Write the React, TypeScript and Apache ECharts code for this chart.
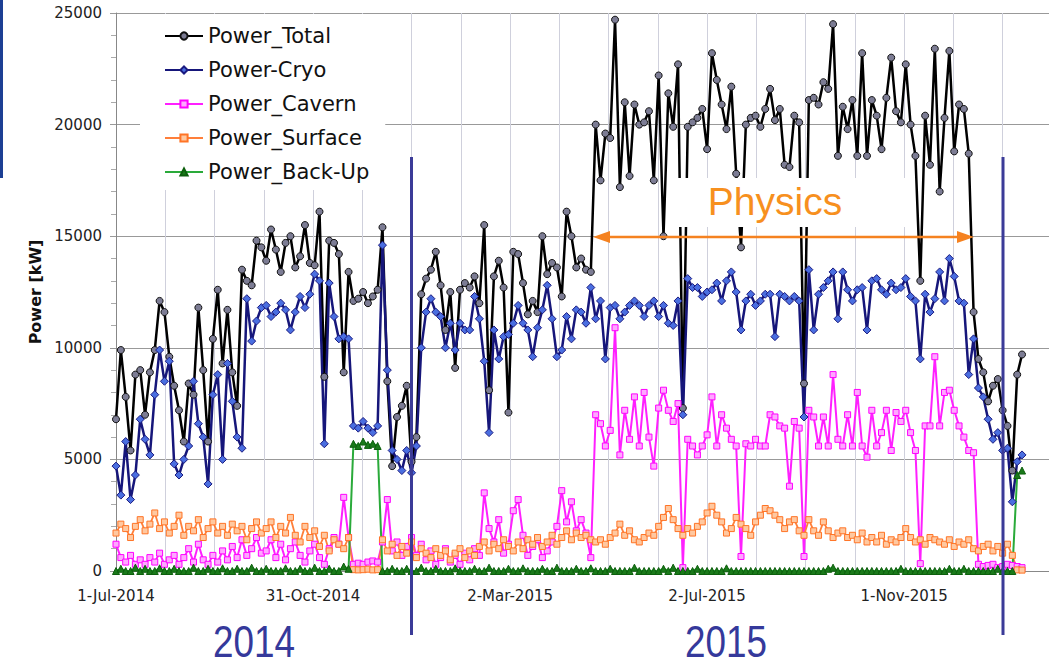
import React, { useEffect, useRef } from "react";
import * as echarts from "echarts";

// one value every DAY_STEP days, starting 1-Jul-2014 (day 0)
const DAY_STEP = 3;
const TICK_LABELS = ["1-Jul-2014", "31-Oct-2014", "2-Mar-2015", "2-Jul-2015", "1-Nov-2015"];
const LABEL_EVERY_DAYS = 122;
const GRID_EVERY_DAYS = 30.5;
const X_MAX_DAYS = 577.7;

const POWER_TOTAL = [
  6800, 9900, 7800, 5400, 8800, 9000, 7000, 8900, 9900, 12100,
  11600, 9600, 8300, 7200, 5800, 8400, 7900, 11800, 9000, 5800,
  10400, 12600, 9300, 11700, 8900, 7400, 13500, 13000, 12800, 14800,
  14500, 13900, 15300, 14400, 13400, 14700, 15000, 13600, 14100, 15500,
  13800, 13700, 16100, 8700, 14800, 14700, 14200, 8900, 13400, 12100,
  12200, 12500, 12000, 12300, 12600, 15400, 8500, 4700, 6900, 7400,
  8300, 4900, 6000, 12400, 13100, 13500, 14300, 12800, 10800, 12500,
  9100, 12600, 12900, 12700, 13200, 12000, 15500, 8100, 13200, 13900,
  12700, 7100, 14300, 14200, 12900, 11500, 12100, 11600, 15000, 13300,
  13800, 13600, 12300, 16100, 15000, 13600, 14000, 13500, 13400, 20000,
  17500, 19600, 19400, 24700, 17200, 21000, 17700, 20900, 20000, 20100,
  20600, 17500, 22200, 15000, 21400, 19900, 22700, 7300, 19900, 20100,
  20300, 20700, 18900, 23200, 22000, 20900, 19800, 21700, 17800, 14500,
  20000, 20300, 20400, 19900, 20700, 21600, 20200, 20700, 18200, 18100,
  20400, 20100, 8400, 21100, 21200, 20900, 21900, 21600, 24500, 18600,
  20800, 19800, 21100, 18600, 23200, 18600, 21100, 20400, 18900, 21200,
  23000, 20600, 20100, 22700, 20000, 18600, 13000, 20400, 18200, 23400,
  17000, 20300, 23300, 18800, 20900, 20700, 18700, 11600, 9500, 8900,
  7600, 8300, 8600, 7200, 6500, 4500, 8800, 9700,
];

const POWER_CRYO = [
  4700, 3400, 5800, 3200, 4300, 6800, 5900, 5200, 7900, 9900,
  8500, 9400, 4800, 4300, 5000, 5600, 8500, 6600, 6000, 3900,
  7900, 8800, 5000, 9300, 7600, 6000, 5500, 12200, 10300, 11200,
  11800, 11900, 11400, 11600, 12000, 11700, 10800, 11600, 12300, 11800,
  12400, 13300, 13000, 5700, 12900, 11400, 10400, 10500, 10400, 6500,
  6400, 6700, 6400, 6200, 6500, 14600, 9000, 5400, 5000, 4500,
  5400, 4400, 5600, 10000, 11600, 12200, 11600, 11400, 10000, 11100,
  9900, 11100, 10800, 10800, 12300, 11300, 9400, 6200, 10800, 9500,
  10500, 10600, 11100, 11900, 11100, 10800, 9600, 10900, 11700, 12800,
  11300, 9600, 9900, 11400, 10400, 11700, 11600, 11100, 12700, 11300,
  12100, 9500, 11800, 11900, 11300, 11600, 11900, 12100, 11900, 11400,
  11900, 12100, 11400, 11900, 11100, 11000, 12100, 7000, 13100, 12700,
  12700, 12300, 12500, 12600, 12900, 12100, 13000, 13400, 12500, 10800,
  12100, 12400, 11900, 12100, 12400, 12400, 10500, 12400, 12300, 12100,
  12300, 12100, 6900, 13500, 10800, 12400, 12700, 13000, 13400, 11300,
  13400, 12600, 12100, 12600, 12700, 10800, 13000, 13100, 12600, 12400,
  12900, 12600, 12700, 13100, 12300, 12100, 9500, 12400, 11600, 12200,
  13400, 12100, 14000, 13200, 12100, 12000, 8800, 10400, 8200, 7800,
  6800, 5900, 6200, 5400, 5500, 3100, 4900, 5200,
];

const POWER_CAVERN = [
  1200, 600, 400, 700, 300, 500, 300, 600, 400, 800,
  300, 500, 700, 300, 600, 1000, 400, 1200, 500, 300,
  700, 400, 900, 500, 1100, 600, 1400, 700, 1000, 1500,
  800, 900, 1400, 600, 1200, 500, 1000, 1300, 700, 400,
  900, 1200, 600, 300, 1000, 1500, 1200, 3300, 1500, 300,
  350, 300, 400, 450, 400, 1300, 3200, 900, 1300, 700,
  1100, 1500, 700, 1200, 500, 900, 300, 600, 1000, 400,
  700, 300, 800, 500, 1000, 700, 3500, 1900, 1300, 2300,
  800, 1200, 2700, 3200, 1600, 700, 1100, 1400, 600, 900,
  1300, 2000, 3600, 2200, 3100, 1800, 2300, 1700, 600, 7000,
  6600, 5600, 6300, 10900, 5200, 7200, 5900, 7800, 5600, 8000,
  6000, 4700, 7300, 8100, 7200, 6700, 7500, 150, 5900, 5600,
  5200, 5600, 6100, 7800, 5600, 7000, 6400, 5900, 5600, 650,
  5700, 5600, 5900, 5600, 5600, 7000, 6900, 6500, 6400, 3800,
  6700, 6400, 650, 7200, 6900, 5600, 6900, 5600, 8800, 5900,
  5600, 7000, 5600, 8000, 5600, 5100, 7200, 5600, 6200, 7200,
  5400, 7100, 6700, 7200, 6200, 5400, 330, 6500, 6500, 9600,
  6500, 8000, 8100, 7200, 6500, 6000, 5400, 5300, 300, 200,
  250, 300, 150, 200, 300, 250, 200, 150,
];

const POWER_SURFACE = [
  1700, 2100, 1900, 1500, 2000, 2300, 1800, 2100, 2600, 1900,
  2200, 1700, 2000, 2500, 1600, 2000, 1800, 2300, 1500, 1900,
  2200, 1700, 2000, 1600, 2100, 1800, 2000, 1400, 1900, 2200,
  1700, 1900, 2200, 1500, 2000, 1700, 2400, 1600, 1300, 2000,
  1500, 1800, 1100, 1600, 900, 1400, 1200, 1000, 1500, 60,
  50, 60, 80, 50, 60, 1400, 900, 1200, 700, 1100,
  800, 1300, 600, 1000, 800, 600, 1000, 700, 900, 500,
  800, 1000, 600, 900, 700, 1100, 1300, 900, 1200, 1000,
  1400, 1100, 900, 1300, 1000, 1400, 1200, 1500, 1100, 1300,
  1600, 1200, 1500, 1800, 1400, 1700, 1500, 1600, 1400, 1300,
  1400, 1200, 1500, 1700, 2100, 1600, 1800, 1400, 1300, 1500,
  1700, 1600, 2000, 2400, 2800, 2300, 1900, 1600, 1900, 1700,
  2000, 2200, 2600, 2900, 2500, 2200, 1700, 1900, 2400, 2100,
  1900, 1600, 2200, 2500, 2800, 2700, 2500, 2300, 1900, 2200,
  2300, 1800, 1600, 2300, 1800, 1600, 2200, 1800, 1500, 1700,
  1800, 1500, 1600, 1400, 1700, 1300, 1500, 1300, 1600, 1200,
  1400, 1300, 1500, 1900, 1500, 1300, 1400, 1200, 1500, 1400,
  1300, 1200, 1400, 1100, 1300, 1200, 1400, 1000, 900, 1100,
  1200, 900, 1100, 800, 1200, 700, 50, 40,
];

const POWER_BACKUP = [
  0, 100, 0, 0, 150, 0, 100, 0, 0, 120,
  0, 0, 100, 0, 0, 0, 150, 0, 0, 100,
  0, 0, 120, 0, 0, 100, 0, 0, 150, 0,
  0, 100, 0, 0, 0, 120, 0, 0, 100, 0,
  0, 150, 0, 0, 100, 0, 0, 200, 100, 5700,
  5600, 5800, 5650, 5700, 5600, 0, 0, 100, 0, 0,
  100, 0, 0, 150, 0, 0, 100, 0, 0, 0,
  120, 0, 0, 0, 100, 0, 0, 150, 0, 0,
  0, 100, 0, 0, 120, 0, 0, 0, 100, 0,
  0, 150, 0, 0, 0, 100, 0, 0, 120, 0,
  0, 0, 100, 0, 0, 0, 0, 150, 0, 0,
  0, 0, 0, 100, 0, 150, 0, 0, 0, 0,
  100, 0, 0, 0, 0, 0, 120, 0, 0, 0,
  0, 0, 0, 0, 0, 0, 0, 0, 0, 0,
  0, 0, 0, 0, 0, 0, 0, 100, 150, 0,
  0, 0, 0, 0, 0, 0, 0, 0, 0, 0,
  0, 0, 100, 0, 0, 0, 0, 0, 0, 0,
  0, 0, 100, 0, 0, 100, 0, 0, 0, 0,
  0, 0, 100, 0, 0, 0, 4300, 4500,
];

const SERIES_NAMES = ["Power_Total", "Power-Cryo", "Power_Cavern", "Power_Surface", "Power_Back-Up"];
const YEAR_LABELS = ["2014", "2015"];
const ANNOTATION = "Physics";

const toPairs = (arr: number[]) => arr.map((v, i) => [i * DAY_STEP, v]);

export default function App() {
  const ref = useRef<HTMLDivElement>(null);

  useEffect(() => {
    if (!ref.current) return;
    const chart = echarts.init(ref.current, undefined, { renderer: "svg" });

    const mk = (
      name: string,
      data: number[],
      line: string,
      lw: number,
      symbol: string,
      size: number,
      fill: string,
      border: string
    ) => ({
      name,
      type: "line",
      data: toPairs(data),
      symbol,
      symbolSize: size,
      showAllSymbol: true,
      silent: true,
      emphasis: { disabled: true },
      lineStyle: { color: line, width: lw },
      itemStyle: { color: fill, borderColor: border, borderWidth: 1 },
    });

    const option: any = {
      animation: false,
      backgroundColor: "#ffffff",
      textStyle: { fontFamily: "DejaVu Sans" },
      grid: { left: 116, top: 13, right: 0, bottom: 96, containLabel: false },
      legend: {
        orient: "vertical",
        left: 140,
        top: 14,
        padding: [10, 16, 6, 24],
        backgroundColor: "#ffffff",
        itemWidth: 38,
        itemHeight: 9,
        itemGap: 10,
        textStyle: { fontSize: 21, color: "#111", fontFamily: "DejaVu Sans", lineHeight: 24 },
        data: SERIES_NAMES,
      },
      xAxis: {
        type: "value",
        min: 0,
        max: X_MAX_DAYS,
        interval: GRID_EVERY_DAYS,
        axisLine: { show: true, lineStyle: { color: "#888" } },
        axisTick: { show: false },
        splitLine: { show: true, lineStyle: { color: "#cfd0dc", width: 1 } },
        axisLabel: {
          show: true,
          margin: 17,
          fontSize: 15,
          color: "#222",
          fontFamily: "DejaVu Sans",
          showMaxLabel: false,
          formatter: (v: number) => {
            const k = Math.round(v / LABEL_EVERY_DAYS);
            if (Math.abs(v - k * LABEL_EVERY_DAYS) < 0.01 && k < TICK_LABELS.length) return TICK_LABELS[k];
            return "";
          },
        },
      },
      yAxis: {
        type: "value",
        min: 0,
        max: 25000,
        interval: 5000,
        name: "Power [kW]",
        nameLocation: "middle",
        nameRotate: 90,
        nameGap: 72,
        nameTextStyle: { fontSize: 16, fontWeight: "bold", color: "#111", fontFamily: "DejaVu Sans" },
        axisLine: { show: true, lineStyle: { color: "#888" } },
        axisTick: { show: true, length: 6, inside: false, lineStyle: { color: "#999" } },
        minorTick: { show: true, splitNumber: 5, length: 5, lineStyle: { color: "#aaa" } },
        splitLine: { show: true, lineStyle: { color: "#999", width: 1 } },
        axisLabel: {
          margin: 14,
          fontSize: 15,
          color: "#222",
          fontFamily: "DejaVu Sans",
          formatter: (v: number) => String(v),
        },
      },
      series: [
        mk(SERIES_NAMES[0], POWER_TOTAL, "#000000", 2.5, "circle", 7, "#7c7c94", "#111111"),
        mk(SERIES_NAMES[1], POWER_CRYO, "#16167a", 2.5, "diamond", 8, "#4a6ee0", "#1a1a80"),
        mk(SERIES_NAMES[2], POWER_CAVERN, "#ff20ff", 2, "rect", 6, "#ffa8ff", "#ff00ff"),
        mk(SERIES_NAMES[3], POWER_SURFACE, "#ff7f3a", 1.8, "rect", 6, "#ffc8a0", "#ff7426"),
        mk(SERIES_NAMES[4], POWER_BACKUP, "#2aaa3a", 2, "triangle", 7, "#1a7a1a", "#0d5f0d"),
      ],
      graphic: [
        { type: "rect", z: 100, shape: { x: 0, y: 0, width: 3, height: 178 }, style: { fill: "#1c3f94" } },
        { type: "line", z: 100, shape: { x1: 411.5, y1: 157, x2: 411.5, y2: 635 }, style: { stroke: "#3b3b98", lineWidth: 3 } },
        { type: "line", z: 100, shape: { x1: 1003, y1: 157, x2: 1003, y2: 635 }, style: { stroke: "#3b3b98", lineWidth: 3 } },
        {
          type: "text", z: 100, x: 254, y: 642, scaleX: 0.82,
          style: { text: YEAR_LABELS[0], fill: "#35399b", font: "45px 'Liberation Sans'", textAlign: "center", textVerticalAlign: "middle" },
        },
        {
          type: "text", z: 100, x: 726, y: 642, scaleX: 0.82,
          style: { text: YEAR_LABELS[1], fill: "#35399b", font: "45px 'Liberation Sans'", textAlign: "center", textVerticalAlign: "middle" },
        },
        { type: "rect", z: 100, shape: { x: 668, y: 178, width: 245, height: 49 }, style: { fill: "#ffffff" } },
        {
          type: "text", z: 101, x: 775, y: 201,
          style: { text: ANNOTATION, fill: "#f7901e", font: "39px 'Liberation Sans'", textAlign: "center", textVerticalAlign: "middle" },
        },
        { type: "line", z: 101, shape: { x1: 604, y1: 237, x2: 962, y2: 237 }, style: { stroke: "#f58220", lineWidth: 2.5 } },
        { type: "polygon", z: 101, shape: { points: [[593, 237], [610, 231], [610, 243]] }, style: { fill: "#f58220" } },
        { type: "polygon", z: 101, shape: { points: [[974, 237], [957, 231], [957, 243]] }, style: { fill: "#f58220" } },
      ],
    };

    chart.setOption(option);
    return () => chart.dispose();
  }, []);

  return (
    <div
      ref={ref}
      style={{ position: "absolute", left: 0, top: 0, width: 1049, height: 667, background: "#fff" }}
    />
  );
}
